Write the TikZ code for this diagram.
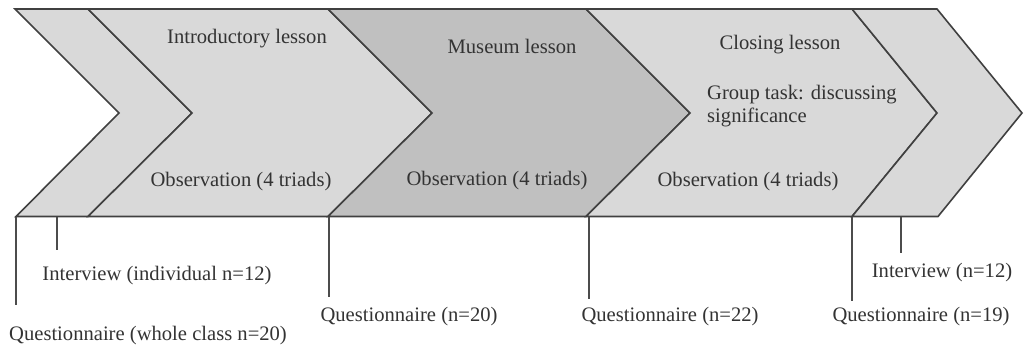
\documentclass[tikz,border=0pt]{standalone}
\usepackage{fontspec}
\setmainfont{Liberation Serif}
\begin{document}
\begin{tikzpicture}[x=1pt,y=-1pt,
  chev/.style={draw=black!75, line width=1.6pt, line join=miter, fill=#1},
  tick/.style={draw=black!70, line width=1.4pt},
  lab/.style={inner sep=0pt, text=black!80, font=\fontsize{20.6}{24}\selectfont},
]
\definecolor{lightg}{HTML}{D9D9D9}
\definecolor{darkg}{HTML}{C0C0C0}
\useasboundingbox (0,0) rectangle (1024,350);
% chevrons
\path[chev=lightg] (15,9) -- (88,9) -- (192,113) -- (88,216.5) -- (16,216.5) -- (119,113) -- cycle;
\path[chev=lightg] (88,9) -- (328,9) -- (432,113) -- (328,216.5) -- (88,216.5) -- (192,113) -- cycle;
\path[chev=darkg] (328,9) -- (586,9) -- (690,113) -- (586,216.5) -- (328,216.5) -- (432,113) -- cycle;
\path[chev=lightg] (586,9) -- (852,9) -- (937,113) -- (852,216.5) -- (586,216.5) -- (690,113) -- cycle;
\path[chev=lightg] (852,9) -- (937,9) -- (1022,113) -- (938,216.5) -- (852,216.5) -- (937,113) -- cycle;
% texts in chevrons
\node[lab] (intro) at (247,39) {Introductory lesson};
\node[lab] (obs1) at (241,182) {Observation (4 triads)};
\node[lab] (museum) at (512,46) {Museum lesson};
\node[lab] (obs2) at (497,181) {Observation (4 triads)};
\node[lab] (closing) at (780,45) {Closing lesson};
\node[lab, anchor=west, align=left] (group) at (707,106) {Group task: discussing\\[-1.5pt]significance};
\node[lab] (obs3) at (748,182) {Observation (4 triads)};
% bottom labels
\node[lab] (intA) at (157,276) {Interview (individual n=12)};
\node[lab] (qA) at (148,336) {Questionnaire (whole class n=20)};
\node[lab] (qB) at (409,317) {Questionnaire (n=20)};
\node[lab] (qC) at (670,317) {Questionnaire (n=22)};
\node[lab] (qD) at (921,317) {Questionnaire (n=19)};
\node[lab] (intB) at (942,273) {Interview (n=12)};
% tick coordinates
\coordinate (t1a) at (16,216.5);  \coordinate (t1b) at (16,305);
\coordinate (t2a) at (57,216.5);  \coordinate (t2b) at (57,250);
\coordinate (t3a) at (329,216.5); \coordinate (t3b) at (329,297);
\coordinate (t4a) at (589,216.5); \coordinate (t4b) at (589,299);
\coordinate (t5a) at (852,216.5); \coordinate (t5b) at (852,301);
\coordinate (t6a) at (901,216.5); \coordinate (t6b) at (901,253);
\draw[tick] (t1a) -- (t1b);
\draw[tick] (t2a) -- (t2b);
\draw[tick] (t3a) -- (t3b);
\draw[tick] (t4a) -- (t4b);
\draw[tick] (t5a) -- (t5b);
\draw[tick] (t6a) -- (t6b);
\end{tikzpicture}
\end{document}
